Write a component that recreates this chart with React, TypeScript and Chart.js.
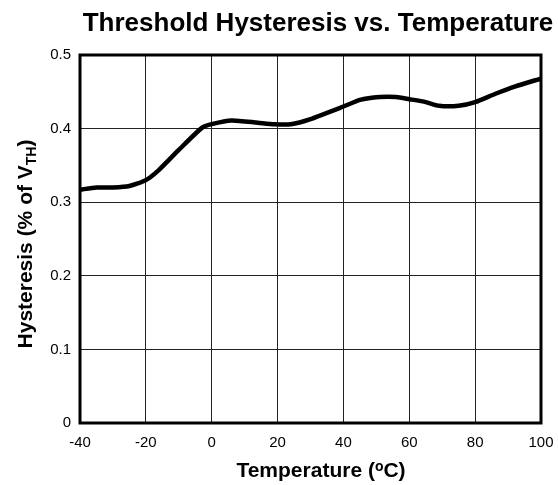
import { useEffect, useRef } from "react";
import { Chart, registerables } from "chart.js";

Chart.register(...registerables);

const TITLE = "Threshold Hysteresis vs. Temperature";
const temperatures = [-40, -35, -30, -25, -20, -16, -10, -3, 0, 6, 14, 19, 24, 30, 40, 45, 51, 56, 60, 65, 69, 75, 80, 86, 92, 100];
const hysteresis = [0.317, 0.32, 0.32, 0.322, 0.33, 0.344, 0.371, 0.401, 0.406, 0.411, 0.408, 0.406, 0.406, 0.413, 0.43, 0.439, 0.443, 0.443, 0.44, 0.436, 0.431, 0.431, 0.436, 0.447, 0.457, 0.468];
const xTickValues = [-40, -20, 0, 20, 40, 60, 80, 100];
const yTickValues = [0, 0.1, 0.2, 0.3, 0.4, 0.5];

const FONT = '"Liberation Sans", Arial, Helvetica, sans-serif';

const decorPlugin = {
  id: "decor",
  afterDraw(chart: any) {
    const { ctx, chartArea: a } = chart;
    ctx.save();
    // frame
    ctx.strokeStyle = "#000";
    ctx.lineWidth = 3;
    ctx.strokeRect(a.left, a.top, a.right - a.left, a.bottom - a.top);

    ctx.fillStyle = "#000";
    ctx.textBaseline = "alphabetic";

    // title
    ctx.font = `bold 26px ${FONT}`;
    ctx.textAlign = "center";
    ctx.fillText(TITLE, 318, 31);

    // x axis title with superscript o
    const big = `bold 21px ${FONT}`;
    const small = `bold 14px ${FONT}`;
    const p1 = "Temperature (";
    const p2 = "o";
    const p3 = "C)";
    ctx.font = big;
    const w1 = ctx.measureText(p1).width;
    const w3 = ctx.measureText(p3).width;
    ctx.font = small;
    const w2 = ctx.measureText(p2).width;
    const total = w1 + w2 + w3;
    let x = 321 - total / 2;
    const by = 477;
    ctx.textAlign = "left";
    ctx.font = big;
    ctx.fillText(p1, x, by);
    x += w1;
    ctx.font = small;
    ctx.fillText(p2, x, by - 6);
    x += w2;
    ctx.font = big;
    ctx.fillText(p3, x, by);

    // y axis title with subscript TH
    const q1 = "Hysteresis (% of V";
    const q2 = "TH";
    const q3 = ")";
    ctx.font = big;
    const v1 = ctx.measureText(q1).width;
    const v3 = ctx.measureText(q3).width;
    ctx.font = small;
    const v2 = ctx.measureText(q2).width;
    const tot = v1 + v2 + v3;
    ctx.translate(32, 244);
    ctx.rotate(-Math.PI / 2);
    let yx = -tot / 2;
    ctx.font = big;
    ctx.fillText(q1, yx, 0);
    yx += v1;
    ctx.font = small;
    ctx.fillText(q2, yx, 4);
    yx += v2;
    ctx.font = big;
    ctx.fillText(q3, yx, 0);
    ctx.restore();
  },
};

export default function App() {
  const ref = useRef<HTMLCanvasElement | null>(null);
  useEffect(() => {
    if (!ref.current) return;
    const chart = new Chart(ref.current, {
      type: "line",
      data: {
        datasets: [
          {
            data: temperatures.map((t, i) => ({ x: t, y: hysteresis[i] })),
            borderColor: "#000",
            borderWidth: 4.5,
            pointRadius: 0,
            tension: 0.2,
            fill: false,
          },
        ],
      },
      options: {
        animation: false,
        responsive: false,
        devicePixelRatio: 1,
        layout: { padding: { left: 0, top: 55, right: 17, bottom: 0 } },
        plugins: { legend: { display: false }, tooltip: { enabled: false }, title: { display: false } },
        scales: {
          x: {
            type: "linear",
            min: -40,
            max: 100,
            afterBuildTicks: (s: any) => {
              s.ticks = xTickValues.map((v) => ({ value: v }));
            },
            ticks: { color: "#000", font: { family: FONT, size: 15 }, padding: 11, maxRotation: 0 },
            grid: { color: "#222", lineWidth: 1, drawTicks: false },
            border: { display: false },
            afterFit: (s: any) => {
              s.height = 62;
              s.paddingLeft = 0;
              s.paddingRight = 0;
            },
          },
          y: {
            type: "linear",
            min: 0,
            max: 0.5,
            afterBuildTicks: (s: any) => {
              s.ticks = yTickValues.map((v) => ({ value: v }));
            },
            ticks: {
              color: "#000",
              font: { family: FONT, size: 15 },
              padding: 9,
              callback: (v: any) => (v === 0 ? "0" : Number(v).toFixed(1)),
            },
            grid: { color: "#222", lineWidth: 1, drawTicks: false },
            border: { display: false },
            afterFit: (s: any) => {
              s.width = 80;
              s.paddingTop = 0;
              s.paddingBottom = 0;
            },
          },
        },
      },
      plugins: [decorPlugin],
    });
    return () => chart.destroy();
  }, []);
  return (
    <div style={{ position: "absolute", left: 0, top: 0, width: 558, height: 485 }}>
      <canvas ref={ref} width={558} height={485} style={{ display: "block" }} />
    </div>
  );
}
